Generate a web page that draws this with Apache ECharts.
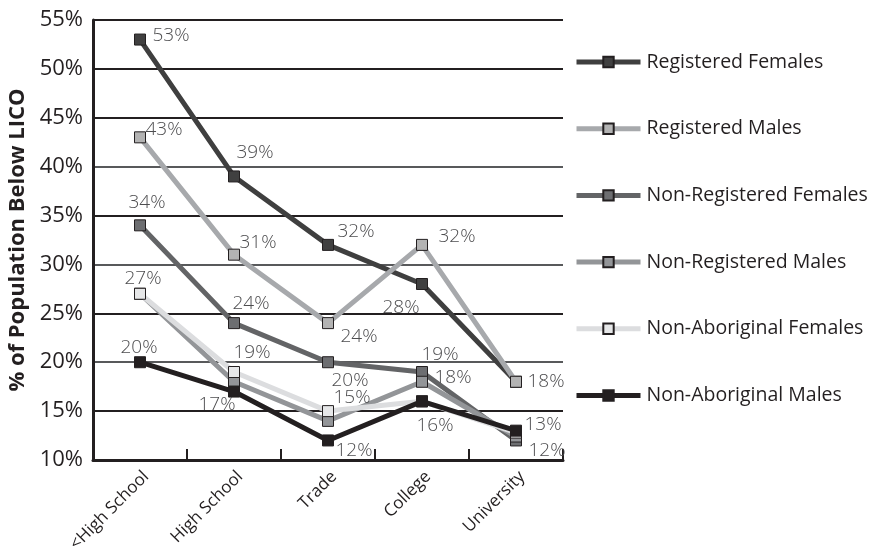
<!DOCTYPE html>
<html>
<head>
<meta charset="utf-8">
<script src="https://cdn.jsdelivr.net/npm/echarts@6/dist/echarts.min.js"></script>
<style>
  html, body { margin: 0; padding: 0; background: #fff; }
  #chart { width: 875px; height: 550px; }
</style>
</head>
<body>
<div id="chart"></div>
<script>
// Education levels on the x axis
const categories = ['<High School', 'High School', 'Trade', 'College', 'University'];

// Share of each group below the low-income cut-off (%)
const registeredFemales    = [53, 39, 32, 28, 18];
const registeredMales      = [43, 31, 24, 32, 18];
const nonRegFemales        = [34, 24, 20, 19, 12];
const nonRegMales          = [27, 18, 14, 18, 12.4];
const nonAborFemales       = [27, 19, 15, 16, 12.8];
const nonAborMales         = [20, 17, 12, 16, 13];

const yTicks = [10, 15, 20, 25, 30, 35, 40, 45, 50, 55];

const seriesNames = [
  'Registered Females', 'Registered Males', 'Non-Registered Females',
  'Non-Registered Males', 'Non-Aboriginal Females', 'Non-Aboriginal Males'
];
const seriesValues = [
  registeredFemales, registeredMales, nonRegFemales,
  nonRegMales, nonAborFemales, nonAborMales
];

// Line / marker colours per group
const lineColors   = ['#3f3f3f', '#a7a9ac', '#636466', '#939598', '#dcdddf', '#231f20'];
const markerColors = ['#404040', '#b3b3b3', '#6d6e71', '#939598', '#e6e7e8', '#231f20'];

// Value label placement (offset from the marker centre); null = no label
const labelOffsets = [
  [[31, -4], [21, -24], [28, -13], [-21, 24], null],
  [[24, -8], [24, -12], [31, 13], [35, -8], [30, 0]],
  [[7, -23], [17, -20], [22, 18], [18, -17], [31, 10]],
  [null, null, null, [31, -4], null],
  [[3, -15], [18, -19], [24, -14], null, null],
  [[-1, -15], [-17, 13], [26, 10], [13, 24], [27, -6]]
];

const FONT = '"Open Sans", "Noto Sans", sans-serif';

const series = seriesValues.map((vals, i) => ({
  name: seriesNames[i],
  type: 'line',
  symbol: 'rect',
  symbolSize: 11,
  z: 2 + i,
  lineStyle: { color: lineColors[i], width: 5 },
  itemStyle: { color: markerColors[i], borderColor: '#231f20', borderWidth: 1 },
  emphasis: { disabled: true },
  data: vals.map((v, j) => {
    const off = labelOffsets[i][j];
    return {
      value: v,
      label: off ? {
        show: true,
        position: 'inside',
        offset: off,
        formatter: p => Math.round(p.value) + '%',
        color: '#4d4d4f',
        fontFamily: FONT,
        fontWeight: 300,
        fontSize: 19
      } : { show: false }
    };
  })
}));

const gridColors = ['#231f20', '#231f20', '#58595b', '#231f20', '#58595b',
                    '#231f20', '#58595b', '#231f20', '#231f20', '#231f20'];

const chart = echarts.init(document.getElementById('chart'), null, { renderer: 'canvas' });
chart.setOption({
  animation: false,
  backgroundColor: '#ffffff',
  grid: { left: 93, right: 312, top: 20, bottom: 90, containLabel: false, outerBoundsMode: 'none' },
  legend: {
    orient: 'vertical',
    left: 569,
    top: 47,
    itemWidth: 64,
    itemHeight: 13,
    itemGap: 46.7,
    data: seriesNames,
    lineStyle: { width: 5 },
    textStyle: { fontFamily: FONT, fontSize: 19.5, color: '#231f20', padding: [0, 0, 0, 1] }
  },
  xAxis: {
    type: 'category',
    data: categories,
    boundaryGap: true,
    axisLine: { show: true, lineStyle: { color: '#231f20', width: 3 } },
    axisTick: { show: true, inside: true, length: 11, lineStyle: { color: '#231f20', width: 2 } },
    axisLabel: {
      rotate: 45,
      margin: 8,
      fontFamily: FONT,
      fontSize: 17,
      color: '#231f20',
      verticalAlign: 'top',
      interval: 0
    },
    splitLine: { show: false }
  },
  yAxis: {
    type: 'value',
    min: yTicks[0],
    max: yTicks[yTicks.length - 1],
    interval: 5,
    name: '% of Population Below LICO',
    nameLocation: 'middle',
    nameGap: 63,
    nameTextStyle: { fontFamily: FONT, fontSize: 22, fontWeight: 'bold', color: '#231f20' },
    axisLine: { show: true, lineStyle: { color: '#231f20', width: 3 } },
    axisTick: { show: false },
    axisLabel: {
      formatter: v => v + '%',
      fontFamily: FONT,
      fontSize: 22,
      color: '#231f20',
      margin: 10
    },
    splitLine: { show: true, lineStyle: { color: gridColors, width: 2 } }
  },
  series: series
});
</script>
</body>
</html>
